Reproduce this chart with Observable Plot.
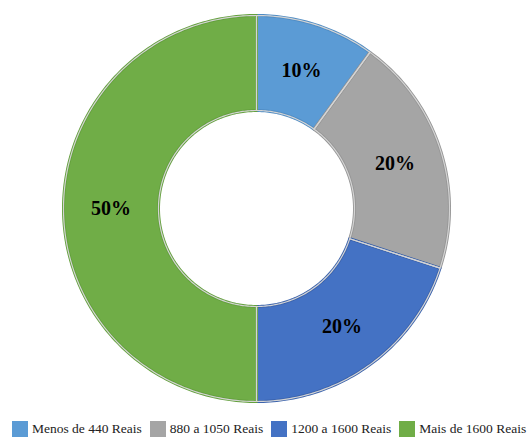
<!DOCTYPE html>
<html>
<head>
<meta charset="utf-8">
<script src="https://cdn.jsdelivr.net/npm/d3@7"></script>
<script src="https://cdn.jsdelivr.net/npm/@observablehq/plot@0.6"></script>
<style>
  body { margin: 0; background: #fff; }
  #legend { display: flex; flex-wrap: nowrap; white-space: nowrap; align-items: center; margin-left: 12px; margin-top: 9px; font-family: 'Liberation Serif', serif; font-size: 13.5px; color: #222; }
  #legend .item { display: flex; align-items: center; margin-right: 8px; flex: none; white-space: nowrap; }
  #legend .sw { width: 16px; height: 16px; margin-right: 4px; flex: none; }
</style>
</head>
<body>
<div id="chart"></div>
<div id="legend"></div>
<script>
const categories = ["Menos de 440 Reais", "880 a 1050 Reais", "1200 a 1600 Reais", "Mais de 1600 Reais"];
const values = [10, 20, 20, 50];
const labels = ["10%", "20%", "20%", "50%"];
const colors = ["#5B9BD5", "#A5A5A5", "#4472C4", "#70AD47"];
const borders = ["#4f8cc4", "#969696", "#3b63ad", "#63a03c"];

const innerRatio = 98 / 193;
const pie = d3.pie().sort(null).value(d => d)(values);

const ringPts = [];
const labelPts = [];
pie.forEach((p, i) => {
  const a0 = p.startAngle, a1 = p.endAngle;
  const n = Math.max(2, Math.ceil((a1 - a0) / (Math.PI / 180)));
  const pts = [];
  for (let k = 0; k <= n; k++) {
    const a = a0 + (a1 - a0) * k / n;
    pts.push([Math.sin(a), Math.cos(a)]);
  }
  for (let k = n; k >= 0; k--) {
    const a = a0 + (a1 - a0) * k / n;
    pts.push([Math.sin(a) * innerRatio, Math.cos(a) * innerRatio]);
  }
  pts.forEach((q, j) => ringPts.push({cat: categories[i], x: q[0], y: q[1], order: j}));
  const am = (a0 + a1) / 2;
  const rm = (1 + innerRatio) / 2;
  labelPts.push({cat: categories[i], label: labels[i], x: Math.sin(am) * rm, y: Math.cos(am) * rm});
});

const chart = Plot.plot({
  width: 530,
  height: 412,
  marginLeft: 63,
  marginRight: 81,
  marginTop: 15,
  marginBottom: 11,
  x: {domain: [-1, 1], axis: null},
  y: {domain: [-1, 1], axis: null},
  color: {domain: categories, range: colors},
  marks: [
    Plot.line(ringPts, {x: "x", y: "y", z: "cat", fill: "cat", stroke: d => borders[categories.indexOf(d.cat)], strokeWidth: 3, curve: "linear-closed"}),
    Plot.line(ringPts, {x: "x", y: "y", z: "cat", fill: "none", stroke: "#d4d4d4", strokeWidth: 1.2, curve: "linear-closed"}),
    Plot.text(labelPts, {x: "x", y: "y", text: "label", fontSize: 20, fontWeight: "bold", fill: "#000", fontFamily: "Liberation Serif"})
  ]
});
document.getElementById("chart").appendChild(chart);

const legend = document.getElementById("legend");
categories.forEach((c, i) => {
  const it = document.createElement("div");
  it.className = "item";
  const sw = document.createElement("div");
  sw.className = "sw";
  sw.style.background = colors[i];
  const t = document.createElement("span");
  t.textContent = c;
  it.appendChild(sw); it.appendChild(t);
  legend.appendChild(it);
});
</script>
</body>
</html>
